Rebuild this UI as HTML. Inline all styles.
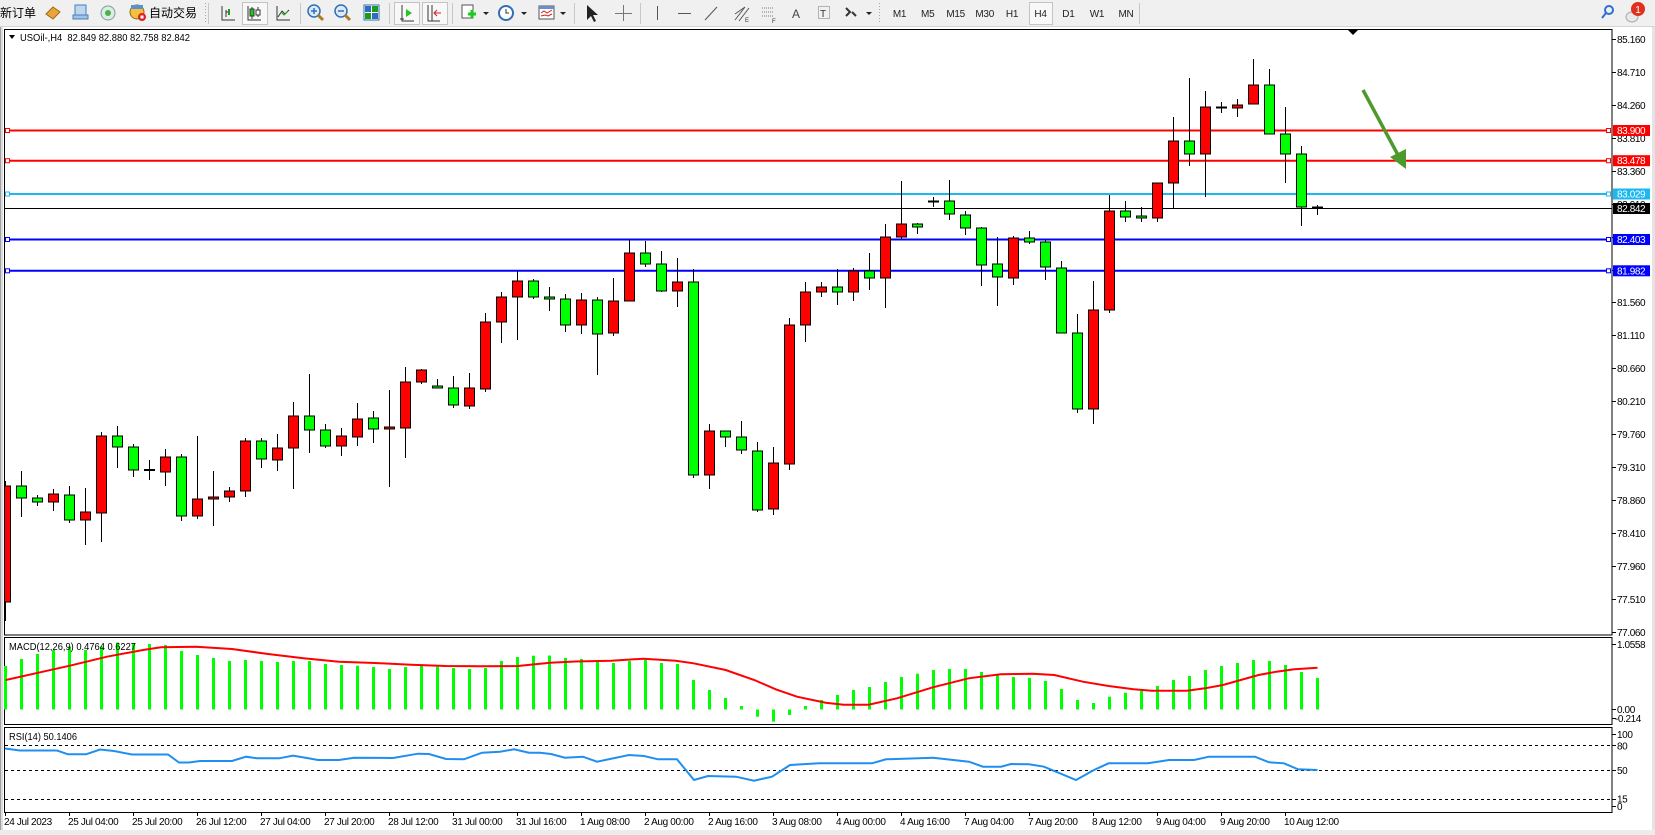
<!DOCTYPE html>
<html><head><meta charset="utf-8"><style>
html,body{margin:0;padding:0;background:#fff;}
svg{display:block;}
text{font-family:"Liberation Sans",sans-serif;}
.ax{font-size:10px;fill:#000;letter-spacing:-0.4px;}
.tl{font-size:10px;fill:#000;letter-spacing:-0.35px;}
.tf{font-size:10px;fill:#222;text-anchor:middle;letter-spacing:-0.3px;}
.cj{font-family:"Liberation Sans","Noto Sans CJK SC",sans-serif;font-size:12px;fill:#000;}
.bx{font-size:10px;fill:#fff;letter-spacing:-0.4px;}
</style></head><body>
<svg width="1655" height="835" viewBox="0 0 1655 835" xmlns="http://www.w3.org/2000/svg">
<defs><clipPath id="cc"><rect x="5" y="30" width="1606.5" height="605"/></clipPath></defs>
<rect width="1655" height="835" fill="#fff"/>
<!-- toolbar -->
<rect x="0" y="0" width="1655" height="26" fill="#f0f0f0"/>
<line x1="0" y1="26.5" x2="1655" y2="26.5" stroke="#d4d4d4"/>
<text class="cj" x="0" y="17">新订单</text>
<polygon points="46,14 53,7 60,12 53,19" fill="#eaa43a" stroke="#9c6a1a"/>
<rect x="75" y="5" width="11" height="10" fill="#bcd7ee" stroke="#4a7fb5"/><rect x="73" y="15" width="15" height="4" fill="#9fc3e6" stroke="#4a7fb5"/>
<circle cx="108" cy="13" r="7" fill="#dceedd" stroke="#7a9aaa"/><circle cx="108" cy="13" r="3" fill="#4caf50"/>
<circle cx="137" cy="12" r="7" fill="#f3c13d" stroke="#8a6a10"/><rect x="131" y="5" width="12" height="4" fill="#5b8fd0"/><circle cx="142" cy="17" r="4" fill="#e02020"/><rect x="140.5" y="15.5" width="3" height="3" fill="#fff"/>
<text class="cj" x="149" y="17">自动交易</text>
<line x1="205.5" y1="3" x2="205.5" y2="24" stroke="#a8a8a8" stroke-dasharray="1,2"/>
<line x1="208.5" y1="3" x2="208.5" y2="24" stroke="#c8c8c8"/>
<path d="M222 6v14h13M226 10v7M226 12h3" stroke="#333" fill="none"/><path d="M229 9v6" stroke="#1a9e1a" stroke-width="2"/>
<rect x="242.5" y="2.5" width="25" height="22" fill="#f8f8f8" stroke="#c4c4c4"/>
<path d="M248 6v14h13M252 7v12M258 7v10" stroke="#333" fill="none"/><rect x="250" y="9" width="4" height="7" fill="#1ec81e" stroke="#333"/><rect x="256" y="10" width="4" height="5" fill="#fff" stroke="#333"/>
<path d="M277 6v14h13M278 17l4-6 3 3 4-4" stroke="#333" fill="none"/><path d="M281 12l3 3 4-4" stroke="#1a9e1a" fill="none"/>
<line x1="300.5" y1="3" x2="300.5" y2="24" stroke="#c8c8c8"/>
<circle cx="314" cy="11" r="6" fill="#dbe9f8" stroke="#2f6fb8" stroke-width="1.5"/><path d="M318 15l5 5" stroke="#b07a20" stroke-width="3"/><path d="M311 11h6M314 8v6" stroke="#2f6fb8" stroke-width="1.5"/>
<circle cx="341" cy="11" r="6" fill="#dbe9f8" stroke="#2f6fb8" stroke-width="1.5"/><path d="M345 15l5 5" stroke="#b07a20" stroke-width="3"/><path d="M338 11h6" stroke="#2f6fb8" stroke-width="1.5"/>
<rect x="364" y="5" width="15" height="15" fill="#fff" stroke="#2f6fb8"/><rect x="365" y="6" width="6" height="6" fill="#2f6fb8"/><rect x="372" y="6" width="6" height="6" fill="#1a9e1a"/><rect x="365" y="13" width="6" height="6" fill="#1a9e1a"/><rect x="372" y="13" width="6" height="6" fill="#2f6fb8"/>
<line x1="389.5" y1="3" x2="389.5" y2="24" stroke="#c8c8c8"/>
<rect x="394.5" y="2.5" width="25" height="22" fill="#f8f8f8" stroke="#c4c4c4"/>
<path d="M402 5v16h12M400 19h4" stroke="#333" fill="none"/><polygon points="406,9 412,13 406,17" fill="#1ec81e"/>
<rect x="422.5" y="2.5" width="25" height="22" fill="#f8f8f8" stroke="#c4c4c4"/>
<path d="M428 5v16h12M432 5v16" stroke="#333" fill="none"/><path d="M434 13h7M437 10l-3 3 3 3" stroke="#d02020" fill="none"/>
<line x1="452.5" y1="3" x2="452.5" y2="24" stroke="#c8c8c8"/>
<rect x="462" y="5" width="11" height="13" fill="#fff" stroke="#555"/><path d="M468 14h8M472 10v8" stroke="#1ec81e" stroke-width="3"/>
<polygon points="483,12 489,12 486,15" fill="#222"/>
<circle cx="506" cy="13" r="7" fill="#fff" stroke="#2f6fb8" stroke-width="2"/><path d="M506 9v4h3" stroke="#333" fill="none"/>
<polygon points="521,12 527,12 524,15" fill="#222"/>
<rect x="539" y="6" width="15" height="13" fill="#fff" stroke="#555"/><rect x="539" y="6" width="15" height="3" fill="#6a8fc8"/><path d="M541 13l3-2 3 2 5-3M541 16l4-1 3 1 4-2" stroke="#d02020" fill="none"/>
<polygon points="560,12 566,12 563,15" fill="#222"/>
<line x1="574.5" y1="3" x2="574.5" y2="24" stroke="#c8c8c8"/>
<polygon points="587,5 587,20 591,16 594,22 596,21 593,15 598,15" fill="#222"/>
<path d="M623.5 5v16M615 13.5h17" stroke="#777" fill="none"/>
<line x1="640.5" y1="3" x2="640.5" y2="24" stroke="#c8c8c8"/>
<path d="M657.5 6v14" stroke="#555"/><path d="M678 13.5h13" stroke="#555"/><path d="M705 20l12-13" stroke="#555"/>
<path d="M735 20l10-13M739 21l10-13M735 14l10-7" stroke="#555" fill="none"/><text x="745" y="22" font-size="6" fill="#333">E</text>
<path d="M762 8h12M762 12h12M762 16h12" stroke="#777" stroke-dasharray="1,1"/><text x="772" y="23" font-size="6" fill="#333">F</text>
<text x="792" y="18" font-size="12" fill="#444">A</text>
<rect x="818.5" y="6.5" width="11" height="12" fill="none" stroke="#777" stroke-dasharray="1,1"/><text x="820" y="17" font-size="10" fill="#333">T</text>
<path d="M846 8l4 4-4 4M852 12l4 4" stroke="#333" fill="none" stroke-width="2"/>
<polygon points="866,12 872,12 869,15" fill="#222"/>
<line x1="879.5" y1="3" x2="879.5" y2="24" stroke="#a8a8a8" stroke-dasharray="1,2"/>
<text class="tf" x="899.5" y="17">M1</text>
<text class="tf" x="927.7" y="17">M5</text>
<text class="tf" x="955.6" y="17">M15</text>
<text class="tf" x="984.7" y="17">M30</text>
<text class="tf" x="1012" y="17">H1</text>
<rect x="1029.5" y="2.5" width="23" height="22" fill="#f8f8f8" stroke="#c4c4c4"/>
<text class="tf" x="1040.5" y="17">H4</text>
<text class="tf" x="1068.4" y="17">D1</text>
<text class="tf" x="1097" y="17">W1</text>
<text class="tf" x="1126" y="17">MN</text>
<line x1="1139.5" y1="3" x2="1139.5" y2="24" stroke="#c8c8c8"/>
<circle cx="1609" cy="10" r="4" fill="none" stroke="#2f6fd0" stroke-width="2"/><path d="M1606 13l-4 5" stroke="#2f6fd0" stroke-width="2"/>
<ellipse cx="1632" cy="17" rx="6" ry="5" fill="#e8e8e8" stroke="#aaa"/>
<circle cx="1638" cy="9" r="7" fill="#e03020"/><text x="1638" y="13" font-size="10" fill="#fff" text-anchor="middle">1</text>
<!-- window frame -->
<rect x="0" y="27" width="3" height="808" fill="#dcdcdc"/><line x1="0.5" y1="27" x2="0.5" y2="835" stroke="#a0a0a0"/>
<rect x="1652" y="27" width="3" height="808" fill="#e4e4e4"/>
<rect x="0" y="830" width="1655" height="5" fill="#ececec"/>
<!-- panels -->
<rect x="4.5" y="29.5" width="1607.5" height="605.5" fill="#fff" stroke="#000"/>
<rect x="4.5" y="637.5" width="1607.5" height="87" fill="#fff" stroke="#000"/>
<rect x="4.5" y="727.5" width="1607.5" height="85" fill="#fff" stroke="#000"/>
<!-- top label -->
<polygon points="9,35 15,35 12,39" fill="#000"/>
<text x="20" y="41" font-size="10" textLength="170" lengthAdjust="spacingAndGlyphs">USOil-,H4&#160;&#160;82.849 82.880 82.758 82.842</text>
<polygon points="1348,30 1358,30 1353,35" fill="#000"/>
<!-- horizontal lines -->
<g stroke-width="2">
<line x1="5" y1="130.5" x2="1611" y2="130.5" stroke="#ff0000"/>
<line x1="5" y1="160.7" x2="1611" y2="160.7" stroke="#ff0000"/>
<line x1="5" y1="194" x2="1611" y2="194" stroke="#1cb8f0"/>
<line x1="5" y1="239.5" x2="1611" y2="239.5" stroke="#0000ff"/>
<line x1="5" y1="270.8" x2="1611" y2="270.8" stroke="#0000ff"/>
</g>
<line x1="5" y1="208.5" x2="1612" y2="208.5" stroke="#000"/>
<g fill="#fff" stroke-width="1">
<rect x="5.5" y="128.5" width="4" height="4" stroke="#ff0000"/><rect x="1606.5" y="128.5" width="4" height="4" stroke="#ff0000"/>
<rect x="5.5" y="158.7" width="4" height="4" stroke="#ff0000"/><rect x="1606.5" y="158.7" width="4" height="4" stroke="#ff0000"/>
<rect x="5.5" y="192" width="4" height="4" stroke="#1cb8f0"/><rect x="1606.5" y="192" width="4" height="4" stroke="#1cb8f0"/>
<rect x="5.5" y="237.5" width="4" height="4" stroke="#0000ff"/><rect x="1606.5" y="237.5" width="4" height="4" stroke="#0000ff"/>
<rect x="5.5" y="268.8" width="4" height="4" stroke="#0000ff"/><rect x="1606.5" y="268.8" width="4" height="4" stroke="#0000ff"/>
</g>
<!-- candles -->
<g clip-path="url(#cc)" stroke="#000" stroke-width="1">
<g>
<line x1="5.5" y1="481" x2="5.5" y2="621"/>
<line x1="21.5" y1="471" x2="21.5" y2="517"/>
<line x1="37.5" y1="495" x2="37.5" y2="506"/>
<line x1="53.5" y1="489" x2="53.5" y2="511"/>
<line x1="69.5" y1="486" x2="69.5" y2="523"/>
<line x1="85.5" y1="488" x2="85.5" y2="545"/>
<line x1="101.5" y1="432" x2="101.5" y2="542"/>
<line x1="117.5" y1="426" x2="117.5" y2="468"/>
<line x1="133.5" y1="444" x2="133.5" y2="477"/>
<line x1="149.5" y1="460" x2="149.5" y2="480"/>
<line x1="165.5" y1="449" x2="165.5" y2="486"/>
<line x1="181.5" y1="454" x2="181.5" y2="521"/>
<line x1="197.5" y1="436" x2="197.5" y2="519"/>
<line x1="213.5" y1="471" x2="213.5" y2="526"/>
<line x1="229.5" y1="487" x2="229.5" y2="502"/>
<line x1="245.5" y1="438" x2="245.5" y2="497"/>
<line x1="261.5" y1="438" x2="261.5" y2="468"/>
<line x1="277.5" y1="434" x2="277.5" y2="471"/>
<line x1="293.5" y1="402" x2="293.5" y2="489"/>
<line x1="309.5" y1="374" x2="309.5" y2="453"/>
<line x1="325.5" y1="424" x2="325.5" y2="448"/>
<line x1="341.5" y1="428" x2="341.5" y2="456"/>
<line x1="357.5" y1="403" x2="357.5" y2="446"/>
<line x1="373.5" y1="411" x2="373.5" y2="443"/>
<line x1="389.5" y1="390" x2="389.5" y2="487"/>
<line x1="405.5" y1="367" x2="405.5" y2="458"/>
<line x1="421.5" y1="369" x2="421.5" y2="384"/>
<line x1="437.5" y1="379" x2="437.5" y2="388"/>
<line x1="453.5" y1="376" x2="453.5" y2="408"/>
<line x1="469.5" y1="373" x2="469.5" y2="409"/>
<line x1="485.5" y1="313" x2="485.5" y2="392"/>
<line x1="501.5" y1="292" x2="501.5" y2="343"/>
<line x1="517.5" y1="271" x2="517.5" y2="340"/>
<line x1="533.5" y1="279" x2="533.5" y2="299"/>
<line x1="549.5" y1="287" x2="549.5" y2="311"/>
<line x1="565.5" y1="294" x2="565.5" y2="332"/>
<line x1="581.5" y1="293" x2="581.5" y2="334"/>
<line x1="597.5" y1="297" x2="597.5" y2="375"/>
<line x1="613.5" y1="278" x2="613.5" y2="336"/>
<line x1="629.5" y1="240" x2="629.5" y2="301"/>
<line x1="645.5" y1="241" x2="645.5" y2="267"/>
<line x1="661.5" y1="251" x2="661.5" y2="292"/>
<line x1="677.5" y1="258" x2="677.5" y2="307"/>
<line x1="693.5" y1="269" x2="693.5" y2="478"/>
<line x1="709.5" y1="424" x2="709.5" y2="489"/>
<line x1="725.5" y1="431" x2="725.5" y2="447"/>
<line x1="741.5" y1="421" x2="741.5" y2="454"/>
<line x1="757.5" y1="442" x2="757.5" y2="512"/>
<line x1="773.5" y1="447" x2="773.5" y2="515"/>
<line x1="789.5" y1="318" x2="789.5" y2="470"/>
<line x1="805.5" y1="282" x2="805.5" y2="342"/>
<line x1="821.5" y1="282" x2="821.5" y2="297"/>
<line x1="837.5" y1="269" x2="837.5" y2="305"/>
<line x1="853.5" y1="268" x2="853.5" y2="301"/>
<line x1="869.5" y1="253" x2="869.5" y2="290"/>
<line x1="885.5" y1="224" x2="885.5" y2="308"/>
<line x1="901.5" y1="181" x2="901.5" y2="239"/>
<line x1="917.5" y1="223" x2="917.5" y2="234"/>
<line x1="933.5" y1="197" x2="933.5" y2="207"/>
<line x1="949.5" y1="180" x2="949.5" y2="220"/>
<line x1="965.5" y1="211" x2="965.5" y2="235"/>
<line x1="981.5" y1="227" x2="981.5" y2="286"/>
<line x1="997.5" y1="237" x2="997.5" y2="306"/>
<line x1="1013.5" y1="236" x2="1013.5" y2="285"/>
<line x1="1029.5" y1="231" x2="1029.5" y2="244"/>
<line x1="1045.5" y1="240" x2="1045.5" y2="280"/>
<line x1="1061.5" y1="261" x2="1061.5" y2="333"/>
<line x1="1077.5" y1="314" x2="1077.5" y2="413"/>
<line x1="1093.5" y1="281" x2="1093.5" y2="424"/>
<line x1="1109.5" y1="195" x2="1109.5" y2="313"/>
<line x1="1125.5" y1="201" x2="1125.5" y2="222"/>
<line x1="1141.5" y1="207" x2="1141.5" y2="222"/>
<line x1="1157.5" y1="183" x2="1157.5" y2="222"/>
<line x1="1173.5" y1="117" x2="1173.5" y2="208"/>
<line x1="1189.5" y1="78" x2="1189.5" y2="166"/>
<line x1="1205.5" y1="91" x2="1205.5" y2="197"/>
<line x1="1221.5" y1="102" x2="1221.5" y2="113"/>
<line x1="1237.5" y1="99" x2="1237.5" y2="117"/>
<line x1="1253.5" y1="59" x2="1253.5" y2="104"/>
<line x1="1269.5" y1="69" x2="1269.5" y2="134"/>
<line x1="1285.5" y1="107" x2="1285.5" y2="183"/>
<line x1="1301.5" y1="146" x2="1301.5" y2="226"/>
<line x1="1317.5" y1="205" x2="1317.5" y2="215"/>
</g>
<g fill="#ff0000">
<rect x="0.5" y="486" width="10" height="116"/>
<rect x="48.5" y="494" width="10" height="8"/>
<rect x="80.5" y="512" width="10" height="8"/>
<rect x="96.5" y="436" width="10" height="77"/>
<rect x="160.5" y="457" width="10" height="15"/>
<rect x="192.5" y="499" width="10" height="17"/>
<rect x="208.5" y="497" width="10" height="2"/>
<rect x="224.5" y="491" width="10" height="6"/>
<rect x="240.5" y="441" width="10" height="50"/>
<rect x="272.5" y="448" width="10" height="12"/>
<rect x="288.5" y="416" width="10" height="32"/>
<rect x="336.5" y="436" width="10" height="10"/>
<rect x="352.5" y="419" width="10" height="18"/>
<rect x="384.5" y="427" width="10" height="2"/>
<rect x="400.5" y="382" width="10" height="46"/>
<rect x="416.5" y="370" width="10" height="12"/>
<rect x="464.5" y="388" width="10" height="18"/>
<rect x="480.5" y="322" width="10" height="67"/>
<rect x="496.5" y="297" width="10" height="25"/>
<rect x="512.5" y="281" width="10" height="16"/>
<rect x="576.5" y="300" width="10" height="25"/>
<rect x="608.5" y="301" width="10" height="32"/>
<rect x="624.5" y="253" width="10" height="48"/>
<rect x="672.5" y="282" width="10" height="9"/>
<rect x="704.5" y="431" width="10" height="44"/>
<rect x="768.5" y="463" width="10" height="46"/>
<rect x="784.5" y="325" width="10" height="139"/>
<rect x="800.5" y="292" width="10" height="33"/>
<rect x="816.5" y="287" width="10" height="5"/>
<rect x="848.5" y="271" width="10" height="21"/>
<rect x="880.5" y="237" width="10" height="41"/>
<rect x="896.5" y="224" width="10" height="13"/>
<rect x="1008.5" y="238" width="10" height="40"/>
<rect x="1088.5" y="310" width="10" height="99"/>
<rect x="1104.5" y="211" width="10" height="99"/>
<rect x="1152.5" y="183" width="10" height="35"/>
<rect x="1168.5" y="141" width="10" height="42"/>
<rect x="1200.5" y="107" width="10" height="47"/>
<rect x="1232.5" y="105" width="10" height="3"/>
<rect x="1248.5" y="85" width="10" height="19"/>
</g>
<g fill="#00ff00">
<rect x="16.5" y="486" width="10" height="12"/>
<rect x="32.5" y="498" width="10" height="4"/>
<rect x="64.5" y="495" width="10" height="25"/>
<rect x="112.5" y="436" width="10" height="11"/>
<rect x="128.5" y="447" width="10" height="23"/>
<rect x="176.5" y="457" width="10" height="59"/>
<rect x="256.5" y="441" width="10" height="18"/>
<rect x="304.5" y="416" width="10" height="14"/>
<rect x="320.5" y="430" width="10" height="16"/>
<rect x="368.5" y="418" width="10" height="11"/>
<rect x="432.5" y="386" width="10" height="2"/>
<rect x="448.5" y="388" width="10" height="17"/>
<rect x="528.5" y="281" width="10" height="16"/>
<rect x="544.5" y="297" width="10" height="2"/>
<rect x="560.5" y="299" width="10" height="26"/>
<rect x="592.5" y="300" width="10" height="34"/>
<rect x="640.5" y="253" width="10" height="11"/>
<rect x="656.5" y="264" width="10" height="27"/>
<rect x="688.5" y="282" width="10" height="193"/>
<rect x="720.5" y="431" width="10" height="6"/>
<rect x="736.5" y="437" width="10" height="13"/>
<rect x="752.5" y="451" width="10" height="59"/>
<rect x="832.5" y="287" width="10" height="5"/>
<rect x="864.5" y="271" width="10" height="7"/>
<rect x="912.5" y="224" width="10" height="3"/>
<rect x="944.5" y="201" width="10" height="13"/>
<rect x="960.5" y="215" width="10" height="13"/>
<rect x="976.5" y="228" width="10" height="37"/>
<rect x="992.5" y="264" width="10" height="13"/>
<rect x="1024.5" y="238" width="10" height="4"/>
<rect x="1040.5" y="242" width="10" height="25"/>
<rect x="1056.5" y="268" width="10" height="65"/>
<rect x="1072.5" y="333" width="10" height="76"/>
<rect x="1120.5" y="211" width="10" height="6"/>
<rect x="1136.5" y="216" width="10" height="2"/>
<rect x="1184.5" y="141" width="10" height="13"/>
<rect x="1264.5" y="85" width="10" height="49"/>
<rect x="1280.5" y="134" width="10" height="20"/>
<rect x="1296.5" y="154" width="10" height="53"/>
</g>
<g fill="#000">
<rect x="144.5" y="469.5" width="10" height="1"/>
<rect x="928.5" y="201" width="10" height="1"/>
<rect x="1216.5" y="107" width="10" height="1"/>
<rect x="1312.5" y="207" width="10" height="0.5"/>
</g>
</g>
<!-- arrow -->
<line x1="1363" y1="90" x2="1398" y2="155" stroke="#4d9a2c" stroke-width="3.5"/>
<polygon points="1406,149 1390,157 1406,169" fill="#4d9a2c"/>
<!-- MACD -->
<g fill="#00ff00">
<rect x="4" y="666" width="3" height="43.5"/><rect x="20" y="659" width="3" height="50.5"/><rect x="36" y="654" width="3" height="55.5"/><rect x="52" y="650" width="3" height="59.5"/><rect x="68" y="647" width="3" height="62.5"/><rect x="84" y="650" width="3" height="59.5"/><rect x="100" y="646.5" width="3" height="63"/><rect x="116" y="642.5" width="3" height="67"/><rect x="132" y="643" width="3" height="66.5"/><rect x="148" y="644" width="3" height="65.5"/><rect x="164" y="645" width="3" height="64.5"/><rect x="180" y="651" width="3" height="58.5"/><rect x="196" y="655" width="3" height="54.5"/><rect x="212" y="658" width="3" height="51.5"/><rect x="228" y="661" width="3" height="48.5"/><rect x="244" y="660" width="3" height="49.5"/><rect x="260" y="661" width="3" height="48.5"/><rect x="276" y="662" width="3" height="47.5"/><rect x="292" y="661" width="3" height="48.5"/><rect x="308" y="661" width="3" height="48.5"/><rect x="324" y="664" width="3" height="45.5"/><rect x="340" y="665" width="3" height="44.5"/><rect x="356" y="665.7" width="3" height="43.8"/><rect x="372" y="667" width="3" height="42.5"/><rect x="388" y="669" width="3" height="40.5"/><rect x="404" y="667" width="3" height="42.5"/><rect x="420" y="665.7" width="3" height="43.8"/><rect x="436" y="666.7" width="3" height="42.8"/><rect x="452" y="668" width="3" height="41.5"/><rect x="468" y="669" width="3" height="40.5"/><rect x="484" y="668" width="3" height="41.5"/><rect x="500" y="661" width="3" height="48.5"/><rect x="516" y="657" width="3" height="52.5"/><rect x="532" y="655.7" width="3" height="53.8"/><rect x="548" y="655.5" width="3" height="54"/><rect x="564" y="658" width="3" height="51.5"/><rect x="580" y="659" width="3" height="50.5"/><rect x="596" y="661" width="3" height="48.5"/><rect x="612" y="663" width="3" height="46.5"/><rect x="628" y="661" width="3" height="48.5"/><rect x="644" y="660" width="3" height="49.5"/><rect x="660" y="663" width="3" height="46.5"/><rect x="676" y="664" width="3" height="45.5"/><rect x="692" y="680" width="3" height="29.5"/><rect x="708" y="690" width="3" height="19.5"/><rect x="724" y="698" width="3" height="11.5"/><rect x="740" y="706" width="3" height="3.5"/><rect x="756" y="709.5" width="3" height="7.2"/><rect x="772" y="709.5" width="3" height="12.2"/><rect x="788" y="709.5" width="3" height="5.5"/><rect x="804" y="706" width="3" height="3.5"/><rect x="820" y="700" width="3" height="9.5"/><rect x="836" y="695" width="3" height="14.5"/><rect x="852" y="690" width="3" height="19.5"/><rect x="868" y="687" width="3" height="22.5"/><rect x="884" y="682" width="3" height="27.5"/><rect x="900" y="677" width="3" height="32.5"/><rect x="916" y="673.7" width="3" height="35.8"/><rect x="932" y="670" width="3" height="39.5"/><rect x="948" y="669" width="3" height="40.5"/><rect x="964" y="669" width="3" height="40.5"/><rect x="980" y="672" width="3" height="37.5"/><rect x="996" y="674" width="3" height="35.5"/><rect x="1012" y="677" width="3" height="32.5"/><rect x="1028" y="678" width="3" height="31.5"/><rect x="1044" y="681" width="3" height="28.5"/><rect x="1060" y="689" width="3" height="20.5"/><rect x="1076" y="700" width="3" height="9.5"/><rect x="1092" y="703" width="3" height="6.5"/><rect x="1108" y="696.7" width="3" height="12.8"/><rect x="1124" y="692.7" width="3" height="16.8"/><rect x="1140" y="691" width="3" height="18.5"/><rect x="1156" y="686" width="3" height="23.5"/><rect x="1172" y="680" width="3" height="29.5"/><rect x="1188" y="676" width="3" height="33.5"/><rect x="1204" y="670" width="3" height="39.5"/><rect x="1220" y="666" width="3" height="43.5"/><rect x="1236" y="663" width="3" height="46.5"/><rect x="1252" y="660" width="3" height="49.5"/><rect x="1268" y="661" width="3" height="48.5"/><rect x="1284" y="665" width="3" height="44.5"/><rect x="1300" y="672" width="3" height="37.5"/><rect x="1316" y="678" width="3" height="31.5"/>
</g>
<polyline fill="none" stroke="#ff0000" stroke-width="2" points="5.7,680 35.7,673.3 71.4,665.3 107,656.7 143,650 161,647.3 196,646.7 232,649 268,654 303.6,658.3 339,661.7 375,663 411,664.7 446,666 482,666.3 518,666 550,662.7 575,661.5 611.4,660.7 643.6,658.7 675.7,660.7 693.6,663.3 725.7,670 754.3,680 775.7,689.3 797,696.7 825.7,702.7 843.6,704.7 868.6,704.7 897,698.3 932.9,687.3 968.6,678.3 1000.7,674.3 1032.9,673.7 1054.3,675 1082.9,681.7 1108.6,686 1133.6,689.3 1151.4,690.7 1187,690.7 1205,688.3 1222.9,685 1240.7,680 1258.6,675 1276.4,671.7 1294.3,669.3 1317.5,667.7"/>
<text x="9" y="650" font-size="10" textLength="127" lengthAdjust="spacingAndGlyphs">MACD(12,26,9) 0.4764 0.6227</text>
<!-- RSI -->
<g stroke="#000" stroke-dasharray="3,3">
<line x1="5" y1="745.5" x2="1612" y2="745.5"/>
<line x1="5" y1="770.5" x2="1612" y2="770.5"/>
<line x1="5" y1="799.5" x2="1612" y2="799.5"/>
</g>
<polyline fill="none" stroke="#1e8ff0" stroke-width="2" points="5,748.5 20,750.5 57,750.5 68,754.3 86,754.3 100,749.5 114,751 132,754.5 168,754.5 179,762.5 189,762.5 200,761 232,761 246,756.7 257,758.3 279,758.3 293,755.7 307,758 318,760 339,760 354,757.7 393,758 418,753.7 429,754 446,759 464,759.3 482,752.7 500,751.7 514,749.3 529,752.7 540,752.7 551,754 565,757.7 583,756.7 597,761.7 629,755 644,756 658,759.3 677,759.3 694,780 708,776 736,776.7 754,780.7 772,776.7 790,765 819,763.3 872,763.3 886,759.3 933,757.7 969,761.7 983,766.7 1001,766.7 1011,764 1029,764.3 1044,766.7 1076,780 1094,770 1108.6,763.3 1148,763.3 1169,760 1194,760 1209,756.7 1255,756.7 1269,762.3 1284,763.3 1298,769.3 1317.5,770"/>
<text x="9" y="740" font-size="10" textLength="68" lengthAdjust="spacingAndGlyphs">RSI(14) 50.1406</text>
<!-- right axis ticks -->
<g stroke="#000">
<line x1="1612" y1="39.5" x2="1616" y2="39.5"/><line x1="1612" y1="72.5" x2="1616" y2="72.5"/><line x1="1612" y1="105.5" x2="1616" y2="105.5"/><line x1="1612" y1="138.5" x2="1616" y2="138.5"/><line x1="1612" y1="171.5" x2="1616" y2="171.5"/><line x1="1612" y1="204.5" x2="1616" y2="204.5"/><line x1="1612" y1="237.5" x2="1616" y2="237.5"/><line x1="1612" y1="270.5" x2="1616" y2="270.5"/><line x1="1612" y1="302.5" x2="1616" y2="302.5"/><line x1="1612" y1="335.5" x2="1616" y2="335.5"/><line x1="1612" y1="368.5" x2="1616" y2="368.5"/><line x1="1612" y1="401.5" x2="1616" y2="401.5"/><line x1="1612" y1="434.5" x2="1616" y2="434.5"/><line x1="1612" y1="467.5" x2="1616" y2="467.5"/><line x1="1612" y1="500.5" x2="1616" y2="500.5"/><line x1="1612" y1="533.5" x2="1616" y2="533.5"/><line x1="1612" y1="566.5" x2="1616" y2="566.5"/><line x1="1612" y1="599.5" x2="1616" y2="599.5"/><line x1="1612" y1="632.5" x2="1616" y2="632.5"/>
<line x1="1612" y1="644.5" x2="1616" y2="644.5"/><line x1="1612" y1="709.5" x2="1616" y2="709.5"/><line x1="1612" y1="718.5" x2="1616" y2="718.5"/>
<line x1="1612" y1="734.5" x2="1616" y2="734.5"/><line x1="1612" y1="745.5" x2="1616" y2="745.5"/><line x1="1612" y1="770.5" x2="1616" y2="770.5"/><line x1="1612" y1="799.5" x2="1616" y2="799.5"/><line x1="1612" y1="806.5" x2="1616" y2="806.5"/>
</g>
<g class="ax">
<text class="ax" x="1617" y="43">85.160</text><text class="ax" x="1617" y="76">84.710</text><text class="ax" x="1617" y="109">84.260</text><text class="ax" x="1617" y="142">83.810</text><text class="ax" x="1617" y="175">83.360</text><text class="ax" x="1617" y="208">82.910</text><text class="ax" x="1617" y="241">82.460</text><text class="ax" x="1617" y="274">82.010</text><text class="ax" x="1617" y="306">81.560</text><text class="ax" x="1617" y="339">81.110</text><text class="ax" x="1617" y="372">80.660</text><text class="ax" x="1617" y="405">80.210</text><text class="ax" x="1617" y="438">79.760</text><text class="ax" x="1617" y="471">79.310</text><text class="ax" x="1617" y="504">78.860</text><text class="ax" x="1617" y="537">78.410</text><text class="ax" x="1617" y="570">77.960</text><text class="ax" x="1617" y="603">77.510</text><text class="ax" x="1617" y="636">77.060</text>
<text class="ax" x="1617" y="648">1.0558</text><text class="ax" x="1617" y="713">0.00</text><text class="ax" x="1615" y="722">-0.214</text>
<text class="ax" x="1617" y="738">100</text><text class="ax" x="1617" y="749.5">80</text><text class="ax" x="1617" y="774">50</text><text class="ax" x="1617" y="802.5">15</text><text class="ax" x="1617" y="810">0</text>
</g>
<!-- price boxes -->
<rect x="1613" y="125" width="37" height="11" fill="#ff0000"/><text class="bx" x="1617" y="134">83.900</text>
<rect x="1613" y="155.2" width="37" height="11" fill="#ff0000"/><text class="bx" x="1617" y="164.2">83.478</text>
<rect x="1613" y="188.5" width="37" height="11" fill="#1cb8f0"/><text class="bx" x="1617" y="197.5">83.029</text>
<rect x="1613" y="203" width="37" height="11" fill="#000"/><text class="bx" x="1617" y="212">82.842</text>
<rect x="1613" y="234" width="37" height="11" fill="#0000ff"/><text class="bx" x="1617" y="243">82.403</text>
<rect x="1613" y="265.3" width="37" height="11" fill="#0000ff"/><text class="bx" x="1617" y="274.3">81.982</text>
<!-- time axis -->
<g stroke="#000">
<line x1="5.5" y1="812" x2="5.5" y2="816"/><line x1="69.5" y1="812" x2="69.5" y2="816"/><line x1="133.5" y1="812" x2="133.5" y2="816"/><line x1="197.5" y1="812" x2="197.5" y2="816"/><line x1="261.5" y1="812" x2="261.5" y2="816"/><line x1="325.5" y1="812" x2="325.5" y2="816"/><line x1="389.5" y1="812" x2="389.5" y2="816"/><line x1="453.5" y1="812" x2="453.5" y2="816"/><line x1="517.5" y1="812" x2="517.5" y2="816"/><line x1="581.5" y1="812" x2="581.5" y2="816"/><line x1="645.5" y1="812" x2="645.5" y2="816"/><line x1="709.5" y1="812" x2="709.5" y2="816"/><line x1="773.5" y1="812" x2="773.5" y2="816"/><line x1="837.5" y1="812" x2="837.5" y2="816"/><line x1="901.5" y1="812" x2="901.5" y2="816"/><line x1="965.5" y1="812" x2="965.5" y2="816"/><line x1="1029.5" y1="812" x2="1029.5" y2="816"/><line x1="1093.5" y1="812" x2="1093.5" y2="816"/><line x1="1157.5" y1="812" x2="1157.5" y2="816"/><line x1="1221.5" y1="812" x2="1221.5" y2="816"/><line x1="1285.5" y1="812" x2="1285.5" y2="816"/>
</g>
<g>
<text class="tl" x="4" y="825">24 Jul 2023</text>
<text class="tl" x="68" y="825">25 Jul 04:00</text>
<text class="tl" x="132" y="825">25 Jul 20:00</text>
<text class="tl" x="196" y="825">26 Jul 12:00</text>
<text class="tl" x="260" y="825">27 Jul 04:00</text>
<text class="tl" x="324" y="825">27 Jul 20:00</text>
<text class="tl" x="388" y="825">28 Jul 12:00</text>
<text class="tl" x="452" y="825">31 Jul 00:00</text>
<text class="tl" x="516" y="825">31 Jul 16:00</text>
<text class="tl" x="580" y="825">1 Aug 08:00</text>
<text class="tl" x="644" y="825">2 Aug 00:00</text>
<text class="tl" x="708" y="825">2 Aug 16:00</text>
<text class="tl" x="772" y="825">3 Aug 08:00</text>
<text class="tl" x="836" y="825">4 Aug 00:00</text>
<text class="tl" x="900" y="825">4 Aug 16:00</text>
<text class="tl" x="964" y="825">7 Aug 04:00</text>
<text class="tl" x="1028" y="825">7 Aug 20:00</text>
<text class="tl" x="1092" y="825">8 Aug 12:00</text>
<text class="tl" x="1156" y="825">9 Aug 04:00</text>
<text class="tl" x="1220" y="825">9 Aug 20:00</text>
<text class="tl" x="1284" y="825">10 Aug 12:00</text>
</g>
</svg>
</body></html>
